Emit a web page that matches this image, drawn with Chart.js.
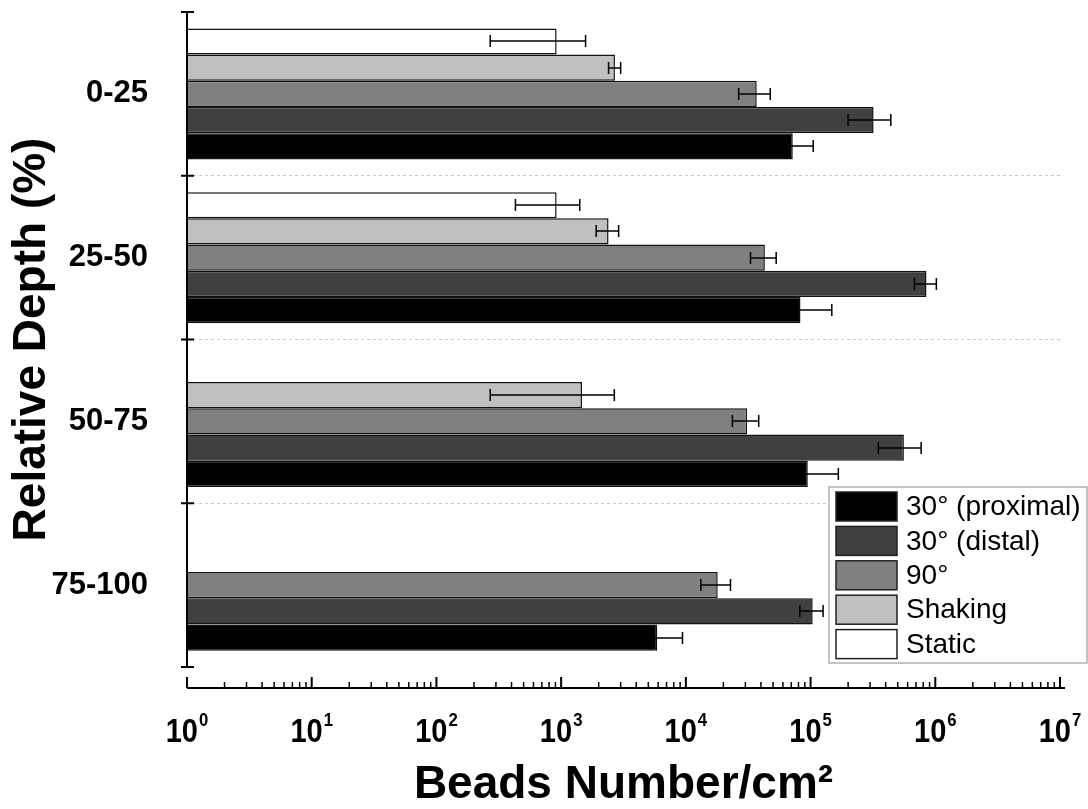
<!DOCTYPE html>
<html>
<head>
<meta charset="utf-8">
<script src="https://cdn.jsdelivr.net/npm/chart.js@4.4.1/dist/chart.umd.min.js"></script>
<style>
  html, body { margin: 0; padding: 0; background: #fff; }
  #wrap { width: 1088px; height: 809px; position: relative; }
</style>
</head>
<body>
<div id="wrap"><canvas id="chart"></canvas></div>
<script>
const depthLabels = ['0-25', '25-50', '50-75', '75-100'];
const seriesNames = ['Static', 'Shaking', '90°', '30° (distal)', '30° (proximal)'];
const seriesColors = ['#ffffff', '#c0c0c0', '#808080', '#404040', '#000000'];

// mean values per depth band
const staticVals   = [920, 920, null, null];
const shakingVals  = [2700, 2400, 1470, null];
const ninetyVals   = [37000, 43000, 31000, 18000];
const distalVals   = [320000, 850000, 560000, 104000];
const proximalVals = [72000, 83000, 95000, 5900];

// error bar half widths
const staticErr   = [650, 490, null, null];
const shakingErr  = [300, 490, 1200, null];
const ninetyErr   = [10500, 10000, 7400, 4800];
const distalErr   = [120000, 170000, 210000, 22000];
const proximalErr = [33000, 65000, 72000, 3500];

const tickExponents = [0, 1, 2, 3, 4, 5, 6, 7];
const minorSteps = [2, 3, 4, 5, 6, 7, 8, 9];

const allVals = [staticVals, shakingVals, ninetyVals, distalVals, proximalVals];
const allErr = [staticErr, shakingErr, ninetyErr, distalErr, proximalErr];

const FONT = "'Liberation Sans', Arial, sans-serif";

const datasets = seriesNames.map((name, i) => ({
  label: name,
  data: allVals[i],
  errors: allErr[i],
  backgroundColor: seriesColors[i],
  borderColor: '#111',
  borderWidth: 1.5,
  categoryPercentage: 0.8,
  barPercentage: 1.0
}));

const extrasPlugin = {
  id: 'extras',
  afterDatasetsDraw(chart) {
    const ctx = chart.ctx;
    const xs = chart.scales.x;
    ctx.save();
    ctx.strokeStyle = '#000';
    ctx.lineWidth = 1.5;
    chart.data.datasets.forEach((ds, i) => {
      const meta = chart.getDatasetMeta(i);
      meta.data.forEach((bar, j) => {
        const v = ds.data[j], e = ds.errors[j];
        if (v == null || e == null) return;
        const y = Math.round(bar.y);
        const x1 = xs.getPixelForValue(Math.max(v - e, 1));
        const x2 = xs.getPixelForValue(v + e);
        ctx.beginPath();
        ctx.moveTo(x1, y); ctx.lineTo(x2, y);
        ctx.moveTo(x1, y - 6); ctx.lineTo(x1, y + 6);
        ctx.moveTo(x2, y - 6); ctx.lineTo(x2, y + 6);
        ctx.stroke();
      });
    });
    ctx.restore();
  },
  afterDraw(chart) {
    const ctx = chart.ctx;
    const xs = chart.scales.x, ys = chart.scales.y;
    const area = chart.chartArea;
    ctx.save();
    ctx.strokeStyle = '#000';

    // y axis line + ticks at band edges
    ctx.lineWidth = 2;
    ctx.beginPath();
    ctx.moveTo(area.left, ys.top); ctx.lineTo(area.left, ys.bottom);
    const n = depthLabels.length;
    for (let i = 0; i <= n; i++) {
      const y = ys.top + i * (ys.bottom - ys.top) / n;
      ctx.moveTo(area.left - 6, y); ctx.lineTo(area.left + 7, y);
    }
    ctx.stroke();

    // x axis line, detached below the plot
    const ay = area.bottom + 21;
    ctx.beginPath();
    ctx.moveTo(area.left, ay); ctx.lineTo(area.right + 5, ay);
    tickExponents.forEach(e => {
      const x = xs.getPixelForValue(Math.pow(10, e));
      ctx.moveTo(x, ay); ctx.lineTo(x, ay - 11);
    });
    ctx.stroke();
    ctx.lineWidth = 1.5;
    ctx.beginPath();
    tickExponents.slice(0, -1).forEach(e => {
      minorSteps.forEach(m => {
        const x = xs.getPixelForValue(m * Math.pow(10, e));
        ctx.moveTo(x, ay); ctx.lineTo(x, ay - 6);
      });
    });
    ctx.stroke();

    // tick labels 10^n
    ctx.fillStyle = '#000';
    ctx.textBaseline = 'alphabetic';
    ctx.textAlign = 'left';
    tickExponents.forEach(e => {
      const x = xs.getPixelForValue(Math.pow(10, e));
      ctx.font = 'bold 33px ' + FONT;
      const wBase = ctx.measureText('10').width * 0.88;
      ctx.font = 'bold 19px ' + FONT;
      const wSup = ctx.measureText(String(e)).width * 0.88;
      const x0 = x - (wBase + wSup + 1) / 2;
      ctx.save();
      ctx.translate(x0, ay + 54);
      ctx.scale(0.88, 1);
      ctx.font = 'bold 33px ' + FONT;
      ctx.fillText('10', 0, 0);
      ctx.font = 'bold 19px ' + FONT;
      ctx.fillText(String(e), (wBase + 1) / 0.88, -16);
      ctx.restore();
    });

    // legend box
    const lx = 829, ly = 487, lw = 258, lh = 176;
    ctx.fillStyle = '#fff';
    ctx.fillRect(lx, ly, lw, lh);
    ctx.strokeStyle = '#b0b0b0';
    ctx.lineWidth = 1.5;
    ctx.strokeRect(lx, ly, lw, lh);
    const items = chart.data.datasets.slice().reverse();
    ctx.font = '28px ' + FONT;
    ctx.textBaseline = 'middle';
    items.forEach((ds, k) => {
      const cy = ly + 19.5 + k * 34.4;
      ctx.fillStyle = ds.backgroundColor;
      ctx.fillRect(lx + 7, cy - 14.5, 61, 29);
      ctx.strokeStyle = '#222';
      ctx.lineWidth = 1.5;
      ctx.strokeRect(lx + 7, cy - 14.5, 61, 29);
      ctx.fillStyle = '#000';
      ctx.fillText(ds.label, lx + 77, cy + 1);
    });
    ctx.restore();
  }
};

new Chart(document.getElementById('chart'), {
  type: 'bar',
  data: { labels: depthLabels, datasets: datasets },
  options: {
    indexAxis: 'y',
    responsive: true,
    maintainAspectRatio: false,
    animation: false,
    layout: { padding: { top: 12, right: 28, left: 0, bottom: 0 } },
    plugins: { legend: { display: false }, tooltip: { enabled: false } },
    scales: {
      x: {
        type: 'logarithmic',
        min: 1,
        max: 1e7,
        grid: { display: false },
        border: { display: false },
        ticks: { display: false },
        title: {
          display: true,
          text: 'Beads Number/cm²',
          color: '#000',
          font: { family: FONT, size: 46, weight: 'bold', lineHeight: 1.05 },
          padding: 0
        },
        afterFit(scale) { scale.height = 142; }
      },
      y: {
        grid: {
          offset: true,
          drawTicks: false,
          lineWidth: 1,
          color: c => (c.index > 0 && c.index < depthLabels.length) ? '#c8c8c8' : 'rgba(0,0,0,0)'
        },
        border: { display: false, dash: [3, 3] },
        ticks: {
          color: '#000',
          padding: 39,
          font: { family: FONT, size: 31, weight: 'bold' }
        },
        title: {
          display: true,
          text: 'Relative Depth (%)',
          color: '#000',
          font: { family: FONT, size: 46, weight: 'bold' },
          padding: { top: 5, bottom: 0 }
        },
        afterFit(scale) {
          scale.width = 187;
          scale.paddingTop = 0;
          scale.paddingBottom = 0;
        }
      }
    }
  },
  plugins: [extrasPlugin]
});
</script>
</body>
</html>
